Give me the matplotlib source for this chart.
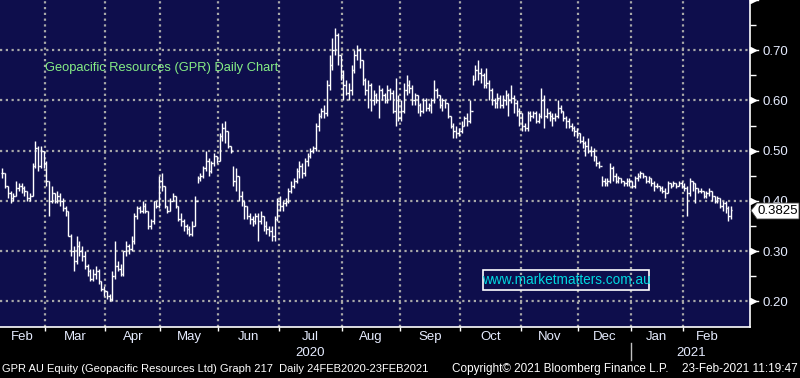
import numpy as np
import pandas as pd
import matplotlib
matplotlib.use("Agg")
import matplotlib.pyplot as plt
from matplotlib.collections import LineCollection
from matplotlib.patches import Polygon, Rectangle

plt.rcParams['font.family'] = ['Liberation Sans', 'DejaVu Sans']

# Daily bars GPR AU (close / high / low), 07-Feb-2020 .. 23-Feb-2021
closes = [
    0.455, 0.43, 0.415, 0.405, 0.41, 0.425, 0.43, 0.425, 0.42, 0.405,
    0.41, 0.47, 0.505, 0.47, 0.50, 0.475, 0.44, 0.40, 0.415, 0.40,
    0.41, 0.40, 0.385, 0.38, 0.33, 0.30, 0.28, 0.31, 0.30, 0.29,
    0.27, 0.26, 0.245, 0.255, 0.26, 0.24, 0.225, 0.22, 0.21, 0.205,
    0.25, 0.27, 0.265, 0.255, 0.30, 0.31, 0.305, 0.32, 0.37, 0.385,
    0.38, 0.39, 0.38, 0.35, 0.36, 0.40, 0.39, 0.44, 0.43, 0.39,
    0.38, 0.40, 0.41, 0.39, 0.365, 0.36, 0.35, 0.345, 0.335, 0.35,
    0.40, 0.445, 0.45, 0.465, 0.48, 0.46, 0.475, 0.49, 0.48, 0.53,
    0.545, 0.54, 0.51, 0.50, 0.44, 0.45, 0.41, 0.40, 0.39, 0.37,
    0.365, 0.36, 0.37, 0.36, 0.37, 0.35, 0.345, 0.34, 0.33, 0.365,
    0.40, 0.39, 0.395, 0.40, 0.42, 0.43, 0.44, 0.46, 0.47, 0.455,
    0.48, 0.49, 0.50, 0.505, 0.55, 0.57, 0.58, 0.575, 0.63, 0.67,
    0.70, 0.73, 0.69, 0.65, 0.63, 0.615, 0.62, 0.66, 0.69, 0.70,
    0.68, 0.64, 0.62, 0.63, 0.60, 0.61, 0.60, 0.62, 0.61, 0.60,
    0.62, 0.615, 0.58, 0.60, 0.565, 0.58, 0.62, 0.63, 0.625, 0.60,
    0.61, 0.59, 0.58, 0.60, 0.585, 0.59, 0.60, 0.62, 0.61, 0.59,
    0.60, 0.595, 0.57, 0.55, 0.54, 0.535, 0.54, 0.55, 0.565, 0.56,
    0.58, 0.64, 0.66, 0.655, 0.65, 0.63, 0.635, 0.62, 0.60, 0.595,
    0.605, 0.59, 0.60, 0.61, 0.60, 0.605, 0.595, 0.58, 0.575, 0.55,
    0.545, 0.575, 0.57, 0.575, 0.56, 0.57, 0.60, 0.57, 0.575, 0.57,
    0.565, 0.57, 0.585, 0.58, 0.565, 0.56, 0.55, 0.545, 0.54, 0.535,
    0.52, 0.515, 0.51, 0.50, 0.50, 0.49, 0.475, 0.47, 0.44, 0.435,
    0.44, 0.465, 0.45, 0.44, 0.445, 0.44, 0.435, 0.44, 0.44, 0.43,
    0.445, 0.45, 0.455, 0.45, 0.44, 0.445, 0.435, 0.43, 0.43, 0.425,
    0.42, 0.415, 0.435, 0.43, 0.435, 0.43, 0.435, 0.43, 0.425, 0.415,
    0.44, 0.435, 0.425, 0.42, 0.42, 0.41, 0.415, 0.42, 0.41, 0.40,
    0.405, 0.39, 0.395, 0.385, 0.37, 0.3825,
]
highs = [
    0.465, 0.455, 0.43, 0.42, 0.415, 0.44, 0.435, 0.435, 0.43, 0.42,
    0.415, 0.475, 0.52, 0.51, 0.51, 0.50, 0.48, 0.44, 0.43, 0.415,
    0.42, 0.415, 0.405, 0.39, 0.38, 0.335, 0.31, 0.33, 0.32, 0.31,
    0.30, 0.275, 0.265, 0.265, 0.27, 0.265, 0.24, 0.23, 0.22, 0.215,
    0.26, 0.32, 0.28, 0.275, 0.30, 0.32, 0.315, 0.33, 0.375, 0.39,
    0.39, 0.40, 0.395, 0.38, 0.365, 0.40, 0.40, 0.45, 0.455, 0.43,
    0.39, 0.405, 0.415, 0.41, 0.39, 0.375, 0.365, 0.355, 0.35, 0.36,
    0.41, 0.45, 0.455, 0.47, 0.50, 0.485, 0.48, 0.495, 0.49, 0.535,
    0.555, 0.56, 0.54, 0.51, 0.47, 0.465, 0.45, 0.42, 0.40, 0.39,
    0.375, 0.37, 0.375, 0.375, 0.38, 0.37, 0.36, 0.35, 0.35, 0.37,
    0.405, 0.41, 0.40, 0.405, 0.425, 0.44, 0.445, 0.465, 0.48, 0.475,
    0.485, 0.495, 0.505, 0.51, 0.555, 0.575, 0.585, 0.59, 0.64, 0.69,
    0.725, 0.745, 0.735, 0.69, 0.66, 0.64, 0.635, 0.67, 0.70, 0.71,
    0.705, 0.68, 0.645, 0.64, 0.635, 0.62, 0.615, 0.63, 0.625, 0.615,
    0.63, 0.625, 0.62, 0.645, 0.61, 0.60, 0.635, 0.65, 0.64, 0.63,
    0.615, 0.61, 0.595, 0.605, 0.605, 0.595, 0.605, 0.64, 0.625, 0.61,
    0.605, 0.60, 0.595, 0.57, 0.555, 0.55, 0.545, 0.56, 0.57, 0.575,
    0.60, 0.65, 0.67, 0.68, 0.665, 0.655, 0.665, 0.64, 0.625, 0.605,
    0.615, 0.61, 0.61, 0.62, 0.615, 0.63, 0.61, 0.60, 0.585, 0.575,
    0.555, 0.58, 0.58, 0.58, 0.58, 0.575, 0.625, 0.61, 0.585, 0.58,
    0.575, 0.575, 0.60, 0.59, 0.58, 0.57, 0.565, 0.555, 0.55, 0.545,
    0.535, 0.53, 0.52, 0.525, 0.51, 0.505, 0.49, 0.48, 0.45, 0.445,
    0.445, 0.475, 0.47, 0.455, 0.45, 0.445, 0.44, 0.445, 0.445, 0.44,
    0.45, 0.455, 0.46, 0.455, 0.45, 0.45, 0.445, 0.44, 0.435, 0.43,
    0.43, 0.425, 0.44, 0.435, 0.44, 0.435, 0.44, 0.44, 0.435, 0.43,
    0.445, 0.44, 0.435, 0.425, 0.425, 0.42, 0.42, 0.425, 0.42, 0.41,
    0.41, 0.405, 0.40, 0.40, 0.39, 0.39,
]
lows = [
    0.445, 0.425, 0.405, 0.395, 0.40, 0.41, 0.42, 0.415, 0.41, 0.40,
    0.40, 0.41, 0.465, 0.46, 0.465, 0.465, 0.43, 0.37, 0.395, 0.395,
    0.395, 0.39, 0.38, 0.37, 0.33, 0.29, 0.26, 0.275, 0.29, 0.28,
    0.265, 0.25, 0.24, 0.24, 0.245, 0.235, 0.22, 0.21, 0.205, 0.20,
    0.20, 0.245, 0.26, 0.25, 0.25, 0.29, 0.295, 0.30, 0.315, 0.365,
    0.375, 0.375, 0.375, 0.345, 0.345, 0.355, 0.385, 0.385, 0.42, 0.385,
    0.375, 0.38, 0.40, 0.385, 0.36, 0.35, 0.34, 0.335, 0.33, 0.33,
    0.35, 0.435, 0.44, 0.445, 0.46, 0.45, 0.455, 0.47, 0.475, 0.48,
    0.52, 0.515, 0.505, 0.495, 0.43, 0.42, 0.40, 0.39, 0.365, 0.365,
    0.355, 0.35, 0.355, 0.32, 0.355, 0.34, 0.335, 0.33, 0.32, 0.32,
    0.36, 0.38, 0.38, 0.39, 0.395, 0.415, 0.425, 0.435, 0.445, 0.445,
    0.45, 0.47, 0.485, 0.495, 0.50, 0.54, 0.565, 0.565, 0.57, 0.62,
    0.66, 0.69, 0.67, 0.64, 0.60, 0.61, 0.60, 0.61, 0.655, 0.68,
    0.665, 0.63, 0.61, 0.585, 0.58, 0.59, 0.595, 0.565, 0.60, 0.595,
    0.595, 0.60, 0.575, 0.55, 0.56, 0.56, 0.575, 0.61, 0.615, 0.59,
    0.59, 0.575, 0.57, 0.575, 0.58, 0.58, 0.575, 0.595, 0.605, 0.585,
    0.58, 0.585, 0.565, 0.545, 0.525, 0.525, 0.53, 0.535, 0.55, 0.55,
    0.555, 0.63, 0.64, 0.64, 0.635, 0.625, 0.625, 0.60, 0.59, 0.585,
    0.585, 0.585, 0.585, 0.59, 0.57, 0.595, 0.575, 0.57, 0.55, 0.54,
    0.54, 0.54, 0.56, 0.565, 0.555, 0.555, 0.565, 0.545, 0.565, 0.56,
    0.55, 0.56, 0.565, 0.575, 0.56, 0.545, 0.545, 0.54, 0.53, 0.525,
    0.515, 0.505, 0.49, 0.495, 0.49, 0.48, 0.47, 0.465, 0.43, 0.43,
    0.43, 0.435, 0.44, 0.435, 0.435, 0.435, 0.43, 0.43, 0.43, 0.425,
    0.425, 0.44, 0.445, 0.445, 0.435, 0.435, 0.43, 0.42, 0.425, 0.42,
    0.415, 0.405, 0.415, 0.425, 0.43, 0.425, 0.43, 0.425, 0.42, 0.37,
    0.41, 0.42, 0.395, 0.415, 0.415, 0.405, 0.405, 0.41, 0.40, 0.395,
    0.395, 0.385, 0.38, 0.375, 0.36, 0.365,
]
# each bar opens where the previous one closed
opens = [closes[0]] + closes[:-1]

# trading calendar used only for the month grid
no_trade = ["2020-04-10", "2020-04-13", "2020-12-24", "2020-12-25",
            "2020-12-28", "2020-12-31", "2021-01-01", "2021-01-26"]
dates = pd.bdate_range("2020-02-07", "2021-02-23", freq="C", holidays=no_trade)

last_price = "0.3825"
title_txt = "Geopacific Resources (GPR) Daily Chart"
watermark = "www.marketmatters.com.au"
yticks = [0.20, 0.30, 0.40, 0.50, 0.60, 0.70]

bg = "#0e0e4c"
grid_col = "#a8a8a8"
txt_col = "#e6ecff"

W, H = 800, 378
fig = plt.figure(figsize=(W / 100, H / 100), dpi=100, facecolor="black")
ax = fig.add_axes([0, 51 / H, 750 / W, 327 / H])
ax.set_facecolor(bg)


def fp(x, y):
    # pixel position (from top-left) -> figure fraction
    return x / W, 1 - y / H


# OHLC bars
x = np.arange(len(closes))
segs = []
for i in range(len(closes)):
    segs.append([(x[i], lows[i]), (x[i], highs[i])])
    segs.append([(x[i] - 0.5, opens[i]), (x[i], opens[i])])
    segs.append([(x[i], closes[i]), (x[i] + 0.5, closes[i])])
ax.add_collection(LineCollection(segs, colors="white", linewidths=1.0, zorder=3))

ax.set_xlim(-0.86, 271.9)
ax.set_ylim(0.149, 0.80)

# month boundaries
months = pd.Series(dates.to_period("M"))
starts = [i for i in range(1, len(dates)) if months[i] != months[i - 1]]
bounds = [-0.86] + [s - 0.5 for s in starts] + [len(closes) - 0.5]
for b in bounds[1:-1]:
    ax.axvline(b, color=grid_col, lw=1.6, ls=(0, (1, 1.6)), zorder=1)
for yv in yticks:
    ax.axhline(yv, color=grid_col, lw=1.6, ls=(0, (1, 1.6)), zorder=1)

ax.set_xticks(bounds[1:-1])
ax.set_xticklabels([])
ax.tick_params(axis="x", colors="white", length=3, width=1, direction="out")

# month names in the middle of each month
xt = ax.get_xaxis_transform()
for k in range(len(bounds) - 1):
    mid = (bounds[k] + bounds[k + 1]) / 2
    name = dates[starts[k - 1]].strftime("%b") if k > 0 else dates[0].strftime("%b")
    ax.text(mid, -0.031, name, transform=xt, ha="center", va="center",
            color=txt_col, fontsize=9.5)

jul_mid = (bounds[5] + bounds[6]) / 2
ax.text(jul_mid, -0.08, "2020", transform=xt, ha="center", va="center",
        color=txt_col, fontsize=9.5)
jan_start = bounds[11]
ax.text(jan_start + 22, -0.08, "2021", transform=xt, ha="center", va="center",
        color=txt_col, fontsize=9.5)
ax.plot([jan_start, jan_start], [-0.049, -0.101], transform=xt,
        color="#c0c0c0", lw=1, clip_on=False)

# right price axis
ax.yaxis.tick_right()
ax.set_yticks(yticks)
ax.set_yticklabels([f"{v:.2f}" for v in yticks])
ax.set_yticks([0.25, 0.35, 0.45, 0.55, 0.65, 0.75], minor=True)
ax.tick_params(axis="y", which="major", colors=txt_col, labelsize=9.5, length=0, pad=9)
ax.tick_params(axis="y", which="minor", color="white", length=4, width=1, direction="out")
yt = ax.get_yaxis_transform()
ax.plot([1.004] * 7, yticks + [0.80], marker=">", ms=4.5, color="white", ls="none",
        transform=yt, clip_on=False, zorder=5)
ax.plot([[1.0] * 7, [1.01] * 7], [yticks + [0.80]] * 2, color="white", lw=1,
        transform=yt, clip_on=False)

for s in ["top", "left"]:
    ax.spines[s].set_visible(False)
for s in ["right", "bottom"]:
    ax.spines[s].set_color("white")
    ax.spines[s].set_linewidth(1.2)

# chart title
fig.text(*fp(45, 68), title_txt, color="#86ee86", fontsize=9.3, va="center", ha="left")

# watermark box
bx, by = fp(483, 290)
fig.patches.append(Rectangle((bx, by), 166 / W, 20 / H, transform=fig.transFigure,
                             fill=False, edgecolor="white", lw=1.2))
fig.text(*fp(566, 280.5), watermark, color="#00d8e0", fontsize=9.8, ha="center", va="center")

# last price flag
flag = [fp(751, 210.5), fp(757, 203), fp(799, 203), fp(799, 219), fp(757, 219)]
fig.patches.append(Polygon(flag, closed=True, transform=fig.transFigure,
                           facecolor="white", edgecolor="#444444", lw=0.6, zorder=10))
fig.text(*fp(778, 211), last_price, color="black", fontsize=9.5, ha="center",
         va="center", zorder=11)

# footer
fig.text(*fp(2, 369), "GPR AU Equity (Geopacific Resources Ltd) Graph 217  Daily 24FEB2020-23FEB2021",
         color="white", fontsize=8, va="center", ha="left")
fig.text(*fp(452, 369), "Copyright\u00a9 2021 Bloomberg Finance L.P.", color="white",
         fontsize=8.5, va="center", ha="left")
fig.text(*fp(798, 369), "23-Feb-2021 11:19:47", color="white", fontsize=8.5,
         va="center", ha="right")

fig.savefig("out.png", dpi=100, facecolor="black")
